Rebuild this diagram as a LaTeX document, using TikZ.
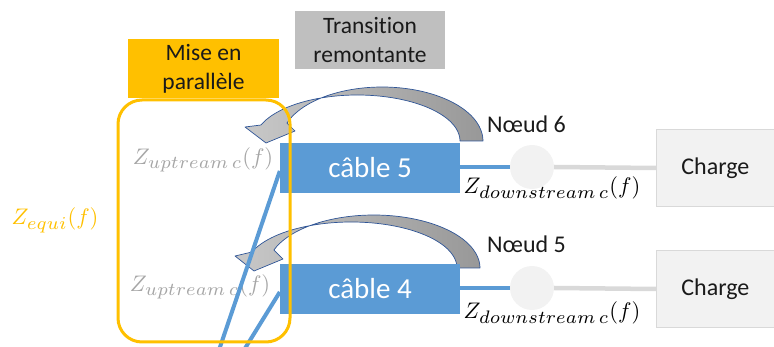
\documentclass[tikz,border=0pt]{standalone}
\usepackage{graphicx}
\usepackage{fontspec}
\setmainfont{Carlito}[Ligatures=NoCommon]
\newcommand{\zsub}[1]{\scalebox{1.15}{$\scriptstyle #1$}}
\newcommand{\zmath}[2][2.25]{\scalebox{#1}{$#2$}}
\definecolor{yel}{HTML}{FFC000}
\definecolor{graybox}{HTML}{BFBFBF}
\definecolor{cblue}{HTML}{5B9BD5}
\definecolor{light}{HTML}{F2F2F2}
\definecolor{lline}{HTML}{D9D9D9}
\definecolor{uptxt}{HTML}{A6A6A6}
\definecolor{arrlight}{HTML}{C8C8C8}
\definecolor{arrdark}{HTML}{989898}
\definecolor{arrline}{HTML}{2F5597}
\definecolor{txt}{HTML}{1A1A1A}
\begin{document}
\begin{tikzpicture}[x=1pt,y=-1pt,
  label box/.style={inner sep=0pt, align=center, text=txt, font=\fontsize{23.5}{29}\selectfont},
  cable/.style={fill=cblue, inner sep=0pt, minimum width=180pt, minimum height=50pt, text=white, font=\fontsize{29}{32}\selectfont},
  charge/.style={fill=light, draw=lline, line width=1.2pt, inner sep=0pt, minimum width=118pt, minimum height=77pt, text=txt, font=\fontsize{24}{28}\selectfont},
  noeud/.style={circle, fill=light, minimum size=44pt, inner sep=0pt},
  math/.style={inner sep=0pt, anchor=base},
  bluel/.style={draw=cblue, line width=4.5pt},
  grayl/.style={draw=lline, line width=4.5pt},
  curvarr/.style={left color=arrlight, right color=arrdark, draw=arrline, line width=0.7pt, line join=round},
  nlabel/.style={inner sep=0pt, anchor=base west, text=txt, font=\fontsize{24}{28}\selectfont}]
\useasboundingbox (0,0) rectangle (774,347);

% labels
\node[label box, fill=yel, minimum width=151pt, minimum height=59pt] (mise) at (203.5,68.5) {Mise en\\parallèle};
\node[label box, fill=graybox, minimum width=150pt, minimum height=58pt] (trans) at (370,40) {Transition\\remontante};

% math texts
\node[math, text=yel] (zeq) at (55,225) {\zmath{Z_{\zsub{equi}}(f)}};
\node[math, text=uptxt] (zup5) at (203,165) {\zmath{Z_{\zsub{uptream\,c}}(f)}};
\node[math, text=uptxt] (zup4) at (200,292) {\zmath{Z_{\zsub{uptream\,c}}(f)}};
\node[math] (zdn6) at (552,194) {\zmath{Z_{\zsub{downstream\,c}}(f)}};
\node[math] (zdn5) at (552,319) {\zmath{Z_{\zsub{downstream\,c}}(f)}};

% node labels
\node[nlabel] (n6) at (487,133) {Nœud 6};
\node[nlabel] (n5) at (487,253) {Nœud 5};

% curved arrows (transition remontante)
\path[curvarr] (483,141)
  -- plot[domain=0:-160.53, samples=40, smooth] ({382.1+100.9*cos(\x)}, {141+54*sin(\x)})
  -- (295,131) -- (266,143) -- (245,127)
  -- plot[domain=-159.65:0, samples=40, smooth] ({357.3+102.7*cos(\x)}, {141+46*sin(\x)})
  -- cycle;
\path[curvarr] (480,268)
  -- plot[domain=0:-160.15, samples=40, smooth] ({373.8+106.2*cos(\x)}, {268+53*sin(\x)})
  -- (283,259) -- (254,271) -- (235,256)
  -- plot[domain=-159.65:0, samples=40, smooth] ({351.2+105.8*cos(\x)}, {268+46*sin(\x)})
  -- cycle;

% cables
\node[cable] (c5) at (370,168) {câble 5};
\node[cable] (c4) at (370,289) {câble 4};

% nodes and loads
\node[noeud] (k6) at (532,167) {};
\node[noeud] (k5) at (532,288) {};
\node[charge] (ch6) at (715.4,168) {Charge};
\node[charge] (ch5) at (715.4,289) {Charge};

\draw[bluel] (c5.east |- k6) -- (k6.west);
\draw[bluel] (c4.east |- k5) -- (k5.west);
\draw[grayl] (k6.east) -- (ch6.west);
\draw[grayl] (k5.east) -- (ch5.west);

% diagonal connectors
\coordinate (b1) at (219,350);
\coordinate (b2) at (244,350);
\draw[bluel, line width=4pt] ([yshift=-3pt]c5.west) -- (b1);
\draw[bluel, line width=4pt] ([yshift=-3pt]c4.west) -- (b2);

% parallel group
\draw[yel, line width=3pt, rounded corners=24pt] (118,100) rectangle (290,342);
\end{tikzpicture}
\end{document}
